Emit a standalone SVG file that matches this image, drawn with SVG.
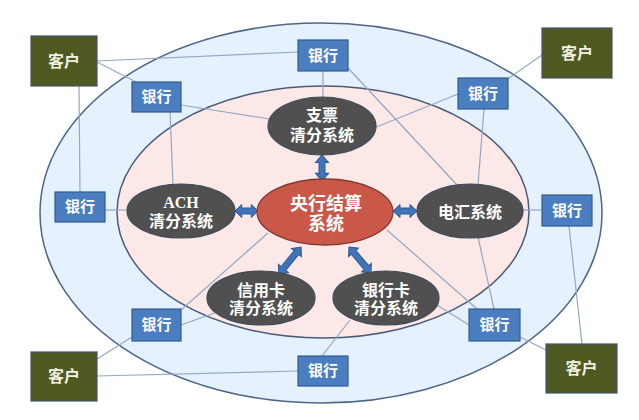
<svg xmlns="http://www.w3.org/2000/svg" width="639" height="420" viewBox="0 0 639 420">
<style>
.t{font-family:"Liberation Serif","Noto Sans CJK SC",serif;font-weight:bold;fill:#ffffff;text-anchor:middle;dominant-baseline:central}
.cust rect{fill:#4f5a23;stroke:#45546a;stroke-width:1.2}
.cust text{fill:#f3f0e2;font-size:16px}
.bank rect{fill:#4a7ec0;stroke:#355d8e;stroke-width:1.2}
.bank text{font-size:15px}
.sys ellipse{fill:#505050;stroke:#3f4a5c;stroke-width:1.2}
.sys text{font-size:16px}
.conn line{stroke:#93a7c6;stroke-width:1.2}
.arr{fill:#3f74b8;stroke:#2c5a92;stroke-width:1}
</style>
<defs>
<path id="da24" d="M0,0 L7,-6.5 L7,-3 L17,-3 L17,-6.5 L24,0 L17,6.5 L17,3 L7,3 L7,6.5 Z"/>
<path id="da34" d="M0,0 L7,-6.5 L7,-3 L27,-3 L27,-6.5 L34,0 L27,6.5 L27,3 L7,3 L7,6.5 Z"/>
</defs>
<rect width="639" height="420" fill="#ffffff"/>
<g id="outer-ring"><ellipse cx="321" cy="213" rx="281" ry="190" fill="#e5f1fc" stroke="#4f6688" stroke-width="1.5"/></g>
<g id="inner-ring"><ellipse cx="323" cy="212" rx="206" ry="126" fill="#fce9e7" stroke="#4b5a78" stroke-width="1.5"/></g>
<g id="connectors" class="conn">
<line x1="97" y1="61" x2="298" y2="52"/>
<line x1="97" y1="62" x2="140" y2="84"/>
<line x1="79" y1="86" x2="80" y2="192"/>
<line x1="181" y1="105" x2="270" y2="119"/>
<line x1="170" y1="112" x2="173" y2="185"/>
<line x1="323" y1="70" x2="323" y2="97"/>
<line x1="348" y1="68" x2="458" y2="186"/>
<line x1="506" y1="80" x2="542" y2="55"/>
<line x1="458" y1="94" x2="374" y2="128"/>
<line x1="484" y1="109" x2="478" y2="185"/>
<line x1="105" y1="210" x2="128" y2="210"/>
<line x1="522" y1="210" x2="542" y2="210"/>
<line x1="569" y1="226" x2="582" y2="344"/>
<line x1="478" y1="237" x2="494" y2="309"/>
<line x1="387" y1="230" x2="477" y2="309"/>
<line x1="437" y1="305" x2="469" y2="325"/>
<line x1="520" y1="337" x2="550" y2="352"/>
<line x1="322" y1="356" x2="350" y2="320"/>
<line x1="97" y1="376" x2="298" y2="371"/>
<line x1="97" y1="359" x2="132" y2="337"/>
<line x1="181" y1="310" x2="268" y2="233"/>
<line x1="181" y1="325" x2="220" y2="311"/>
</g>
<g id="arrows">
<use href="#da24" class="arr" transform="translate(322,155) rotate(90) scale(1.08,1)"/>
<use href="#da24" class="arr" transform="translate(235,211) scale(0.96,1)"/>
<use href="#da24" class="arr" transform="translate(393,211)"/>
<use href="#da34" class="arr" transform="translate(301,247) rotate(129.2) scale(1.03,1)"/>
<use href="#da34" class="arr" transform="translate(349,247) rotate(49.8)"/>
</g>
<g id="sys-zhipiao" class="sys"><ellipse cx="322" cy="126" rx="54" ry="29"/><text class="t" x="322" y="115">支票</text><text class="t" x="322" y="135">清分系统</text></g>
<g id="sys-ach" class="sys"><ellipse cx="181" cy="211" rx="54" ry="27"/><text class="t" x="181" y="202">ACH</text><text class="t" x="181" y="221">清分系统</text></g>
<g id="sys-dianhui" class="sys"><ellipse cx="470" cy="211" rx="53" ry="27"/><text class="t" x="470" y="212">电汇系统</text></g>
<g id="sys-xinyongka" class="sys"><ellipse cx="261" cy="298" rx="54" ry="27"/><text class="t" x="261" y="290">信用卡</text><text class="t" x="261" y="308">清分系统</text></g>
<g id="sys-yinhangka" class="sys"><ellipse cx="386" cy="298" rx="53" ry="27"/><text class="t" x="386" y="290">银行卡</text><text class="t" x="386" y="308">清分系统</text></g>
<g id="central"><ellipse cx="325" cy="212" rx="68" ry="33" fill="#c95848" stroke="#7e3a33" stroke-width="1.3"/><text class="t" x="326" y="204" font-size="18">央行结算</text><text class="t" x="326" y="224" font-size="18">系统</text></g>
<g id="bank-top" class="bank"><rect x="298" y="40" width="50" height="31"/><text class="t" x="323" y="55.5">银行</text></g>
<g id="bank-ul" class="bank"><rect x="132" y="82" width="49" height="30"/><text class="t" x="156.5" y="97">银行</text></g>
<g id="bank-ur" class="bank"><rect x="458" y="78" width="50" height="31"/><text class="t" x="483" y="93.5">银行</text></g>
<g id="bank-l" class="bank"><rect x="55" y="192" width="50" height="30"/><text class="t" x="80" y="207">银行</text></g>
<g id="bank-r" class="bank"><rect x="542" y="195" width="50" height="31"/><text class="t" x="567" y="210.5">银行</text></g>
<g id="bank-ll" class="bank"><rect x="132" y="309" width="49" height="32"/><text class="t" x="156.5" y="325">银行</text></g>
<g id="bank-lr" class="bank"><rect x="469" y="309" width="51" height="32"/><text class="t" x="494.5" y="325">银行</text></g>
<g id="bank-bottom" class="bank"><rect x="298" y="356" width="50" height="30"/><text class="t" x="323" y="371">银行</text></g>
<g id="cust-tl" class="cust"><rect x="31" y="36" width="66" height="50"/><text class="t" x="64" y="61">客户</text></g>
<g id="cust-tr" class="cust"><rect x="542" y="28" width="70" height="50"/><text class="t" x="577" y="53">客户</text></g>
<g id="cust-bl" class="cust"><rect x="31" y="352" width="66" height="49"/><text class="t" x="64" y="376.5">客户</text></g>
<g id="cust-br" class="cust"><rect x="546" y="344" width="71" height="49"/><text class="t" x="581.5" y="368.5">客户</text></g>
</svg>
